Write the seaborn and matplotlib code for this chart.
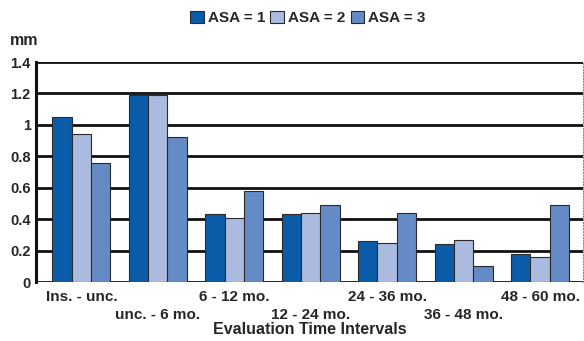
import numpy as np
import pandas as pd
import matplotlib
matplotlib.use("Agg")
import matplotlib.pyplot as plt
import seaborn as sns

intervals = ["Ins. - unc.", "unc. - 6 mo.", "6 - 12 mo.", "12 - 24 mo.",
             "24 - 36 mo.", "36 - 48 mo.", "48 - 60 mo."]
asa1 = [1.05, 1.19, 0.43, 0.43, 0.26, 0.24, 0.18]
asa2 = [0.94, 1.19, 0.41, 0.44, 0.25, 0.27, 0.16]
asa3 = [0.76, 0.92, 0.58, 0.49, 0.44, 0.10, 0.49]
groups = ["ASA = 1", "ASA = 2", "ASA = 3"]
colors = ["#0a5ca8", "#abbbdf", "#648bc6"]

df = pd.DataFrame({
    "interval": intervals * 3,
    "asa": [g for g in groups for _ in intervals],
    "mm": asa1 + asa2 + asa3,
})

sns.set_theme(style="white")
plt.rcParams["font.family"] = ["Liberation Sans", "DejaVu Sans"]
plt.rcParams["font.weight"] = "bold"

fig, ax = plt.subplots(figsize=(5.84, 3.41), dpi=100)
fig.subplots_adjust(left=0.062, right=0.998, top=0.818, bottom=0.173)

sns.barplot(data=df, x="interval", y="mm", hue="asa", palette=colors,
            saturation=1, width=0.76, edgecolor="#2a2a2a", linewidth=0.8,
            ax=ax, zorder=3)

ax.set_ylim(0, 1.4)
ax.set_yticks(np.arange(0, 1.41, 0.2))
ax.set_yticklabels(["0", "0.2", "0.4", "0.6", "0.8", "1", "1.2", "1.4"],
                   fontsize=10.5, fontweight="bold")
ax.set_xlim(-0.59, 6.56)
ax.yaxis.grid(True, color="#111111", linewidth=2.0, zorder=0)
ax.set_axisbelow(True)

xlabels = [t if i % 2 == 0 else "\n" + t for i, t in enumerate(intervals)]
ax.set_xticks(range(len(intervals)))
ax.set_xticklabels(xlabels, fontsize=11, fontweight="bold", linespacing=1.3)
ax.tick_params(axis="x", length=0, pad=6)
ax.tick_params(axis="y", length=0, pad=4)

ax.set_xlabel("Evaluation Time Intervals", fontsize=11.5, fontweight="bold", labelpad=0)
ax.set_ylabel("")
ax.text(-0.048, 1.065, "mm", transform=ax.transAxes, fontsize=11.5,
        fontweight="bold", ha="left", va="bottom")

for s in ["top", "bottom"]:
    ax.spines[s].set_visible(False)
ax.spines["left"].set_color("#111111")
ax.spines["left"].set_linewidth(2.2)
ax.spines["right"].set_color("#888888")
ax.spines["right"].set_linewidth(0.8)
ax.spines["right"].set_linestyle(":")

ax.legend(title=None, loc="lower center", bbox_to_anchor=(0.497, 1.14), ncol=3,
          frameon=False, handlelength=0.9, handleheight=0.9,
          handletextpad=0.25, columnspacing=0.35, borderaxespad=0,
          prop={"weight": "bold", "size": 11})

fig.savefig("out.png", dpi=100)
